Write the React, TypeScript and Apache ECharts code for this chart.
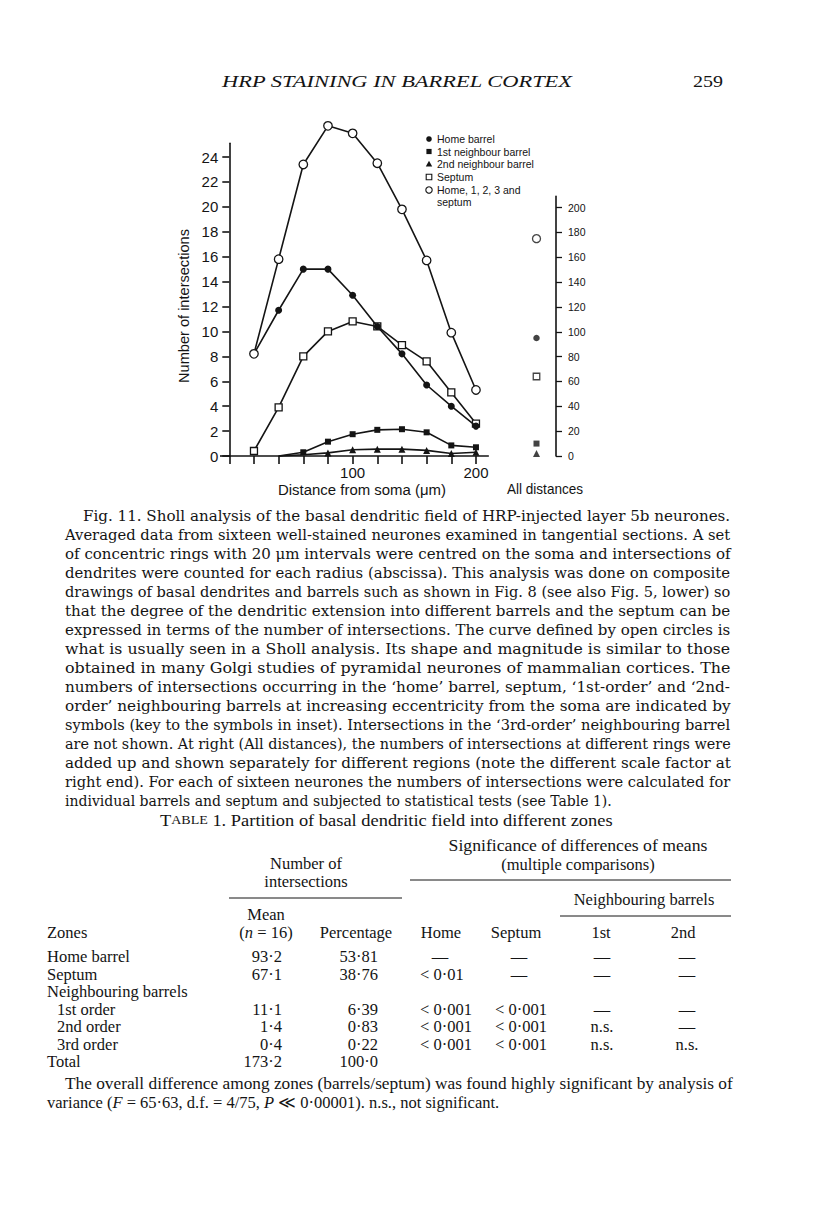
import React, { useEffect, useRef } from "react";
import * as echarts from "echarts";

// ---------- data ----------
const distances = [20, 40, 60, 80, 100, 120, 140, 160, 180, 200];
const totalAll = [8.2, 15.8, 23.4, 26.5, 25.9, 23.5, 19.8, 15.7, 9.9, 5.3];
const homeBarrel = [8.2, 11.7, 15.0, 15.0, 12.9, 10.4, 8.2, 5.7, 4.0, 2.4];
const septum = [0.4, 3.9, 8.0, 10.0, 10.8, 10.4, 8.9, 7.6, 5.1, 2.6];
const firstNeighbour = [null, 0, 0.3, 1.15, 1.75, 2.1, 2.15, 1.9, 0.85, 0.7];
const secondNeighbour = [null, 0, 0.1, 0.25, 0.5, 0.55, 0.55, 0.45, 0.2, 0.3];

const allDistancesCategory = ["All distances"];
const allTotal = [175];
const allHome = [95];
const allSeptum = [64];
const allFirst = [10];
const allSecond = [2];

const leftTicks = [0, 2, 4, 6, 8, 10, 12, 14, 16, 18, 20, 22, 24];
const xTicks = [0, 20, 40, 60, 80, 100, 120, 140, 160, 180, 200];
const xLabels = [100, 200];
const rightTicks = [0, 20, 40, 60, 80, 100, 120, 140, 160, 180, 200];

const legendLabels = [
  "Home barrel",
  "1st neighbour barrel",
  "2nd neighbour barrel",
  "Septum",
  "Home, 1, 2, 3 and",
  "septum",
];

const captionLines = [
  "Fig. 11. Sholl analysis of the basal dendritic field of HRP-injected layer 5b neurones.",
  "Averaged data from sixteen well-stained neurones examined in tangential sections. A set",
  "of concentric rings with 20 μm intervals were centred on the soma and intersections of",
  "dendrites were counted for each radius (abscissa). This analysis was done on composite",
  "drawings of basal dendrites and barrels such as shown in Fig. 8 (see also Fig. 5, lower) so",
  "that the degree of the dendritic extension into different barrels and the septum can be",
  "expressed in terms of the number of intersections. The curve defined by open circles is",
  "what is usually seen in a Sholl analysis. Its shape and magnitude is similar to those",
  "obtained in many Golgi studies of pyramidal neurones of mammalian cortices. The",
  "numbers of intersections occurring in the ‘home’ barrel, septum, ‘1st-order’ and ‘2nd-",
  "order’ neighbouring barrels at increasing eccentricity from the soma are indicated by",
  "symbols (key to the symbols in inset). Intersections in the ‘3rd-order’ neighbouring barrel",
  "are not shown. At right (All distances), the numbers of intersections at different rings were",
  "added up and shown separately for different regions (note the different scale factor at",
  "right end). For each of sixteen neurones the numbers of intersections were calculated for",
  "individual barrels and septum and subjected to statistical tests (see Table 1).",
];

const zoneLabels = ["Home barrel", "Septum", "Neighbouring barrels", "1st order", "2nd order", "3rd order", "Total"];
const meanValues = ["93·2", "67·1", "", "11·1", "1·4", "0·4", "173·2"];
const percentValues = ["53·81", "38·76", "", "6·39", "0·83", "0·22", "100·0"];
const sigHome = ["—", "< 0·01", "", "< 0·001", "< 0·001", "< 0·001", ""];
const sigSeptum = ["—", "—", "", "< 0·001", "< 0·001", "< 0·001", ""];
const sigFirst = ["—", "—", "", "—", "n.s.", "n.s.", ""];
const sigSecond = ["—", "—", "", "—", "—", "n.s.", ""];

// ---------- helpers ----------
const SERIF = '"DejaVu Serif", serif';
const TSERIF = '"Liberation Serif", serif';
const SANS = '"Liberation Sans", Arial, sans-serif';
const INK = "#141414";
const TS = 16.5;

let measureCtx: CanvasRenderingContext2D | null = null;
function measure(text: string, font: string): number {
  if (!measureCtx) measureCtx = document.createElement("canvas").getContext("2d");
  measureCtx!.font = font;
  return measureCtx!.measureText(text).width;
}

function txt(
  text: string,
  x: number,
  y: number,
  size: number,
  family: string,
  opts: { width?: number; italic?: boolean; align?: string; rotation?: number } = {}
) {
  const font = `${opts.italic ? "italic " : ""}${size}px ${family}`;
  const natural = measure(text, font);
  const sx = opts.width ? opts.width / natural : 1;
  return {
    type: "text",
    x,
    y,
    scaleX: sx,
    rotation: opts.rotation || 0,
    silent: true,
    style: {
      text,
      fill: INK,
      font,
      align: opts.align || "left",
      verticalAlign: "middle",
    },
  };
}

function hline(x1: number, x2: number, y: number, w = 1) {
  return {
    type: "line",
    silent: true,
    shape: { x1, y1: y, x2, y2: y },
    style: { stroke: INK, lineWidth: w },
  };
}

function pairs(vals: (number | null)[]) {
  return distances.map((d, i) => [d, vals[i]]);
}

export default function App() {
  const ref = useRef<HTMLDivElement>(null);

  useEffect(() => {
    if (!ref.current) return;
    const chart = echarts.init(ref.current, undefined, { renderer: "svg" });

    const graphics: any[] = [];

    // running head
    graphics.push(txt("HRP STAINING IN BARREL CORTEX", 397, 81, 17, TSERIF, { italic: true, align: "center", width: 351 }));
    graphics.push(txt("259", 708, 81, 17, TSERIF, { align: "center", width: 30 }));

    // axis names
    graphics.push(txt("Number of intersections", 184, 306, 15, SANS, { align: "center", rotation: Math.PI / 2, width: 154 }));
    graphics.push(txt("Distance from soma (μm)", 362, 489, 15, SANS, { align: "center", width: 168 }));
    graphics.push(txt("All distances", 545, 489, 15, SANS, { align: "center", width: 76 }));

    // x-axis line extension to the left of the y axis
    graphics.push(hline(220, 230, 456, 1.6));

    // legend
    const lx = 429;
    const ly = [139, 151.5, 164, 177, 190, 202];
    graphics.push({ type: "circle", silent: true, shape: { cx: lx, cy: ly[0], r: 2.8 }, style: { fill: INK } });
    graphics.push({ type: "rect", silent: true, shape: { x: lx - 2.6, y: ly[1] - 2.6, width: 5.2, height: 5.2 }, style: { fill: INK } });
    graphics.push({ type: "polygon", silent: true, shape: { points: [[lx, ly[2] - 3.2], [lx - 3.2, ly[2] + 2.6], [lx + 3.2, ly[2] + 2.6]] }, style: { fill: INK } });
    graphics.push({ type: "rect", silent: true, shape: { x: lx - 2.8, y: ly[3] - 2.8, width: 5.6, height: 5.6 }, style: { fill: "#fff", stroke: INK, lineWidth: 1.1 } });
    graphics.push({ type: "circle", silent: true, shape: { cx: lx, cy: ly[4], r: 3.2 }, style: { fill: "#fff", stroke: INK, lineWidth: 1.1 } });
    legendLabels.forEach((l, i) => graphics.push(txt(l, 437, ly[i], 10.5, SANS)));

    // caption (justified lines, last line natural width)
    captionLines.forEach((line, i) => {
      const y = 516 + i * 19;
      const x = i === 0 ? 83 : 65;
      const last = i === captionLines.length - 1;
      graphics.push(txt(line, x, y, 14, SERIF, last ? {} : { width: 731 - x }));
    });

    // table title (small caps TABLE)
    const titleRest = " 1. Partition of basal dendritic field into different zones";
    const titleNatural =
      measure("T", `${TS}px ${TSERIF}`) + measure("ABLE", `${TS * 0.76}px ${TSERIF}`) + measure(titleRest, `${TS}px ${TSERIF}`);
    graphics.push({
      type: "text",
      x: 160,
      y: 820,
      scaleX: 453 / titleNatural,
      silent: true,
      style: {
        text: "{a|T}{b|ABLE}" + titleRest,
        font: `${TS}px ${TSERIF}`,
        fill: INK,
        verticalAlign: "middle",
        rich: {
          a: { fontSize: TS, fontFamily: TSERIF, fill: INK },
          b: { fontSize: TS * 0.76, fontFamily: TSERIF, fill: INK },
        },
      },
    });

    // table header
    graphics.push(txt("Significance of differences of means", 578, 846, TS, TSERIF, { align: "center", width: 259 }));
    graphics.push(txt("(multiple comparisons)", 578, 864, TS, TSERIF, { align: "center" }));
    graphics.push(txt("Number of", 306, 863, TS, TSERIF, { align: "center" }));
    graphics.push(txt("intersections", 306, 881, TS, TSERIF, { align: "center" }));
    graphics.push(hline(410, 731, 880));
    graphics.push(hline(229, 402, 898));
    graphics.push(txt("Neighbouring barrels", 644, 899, TS, TSERIF, { align: "center" }));
    graphics.push(hline(560, 731, 916));
    graphics.push(txt("Mean", 266, 914, TS, TSERIF, { align: "center" }));
    graphics.push({
      type: "text",
      x: 266,
      y: 932,
      silent: true,
      style: {
        text: "({i|n} = 16)",
        font: `${TS}px ${TSERIF}`,
        fill: INK,
        align: "center",
        verticalAlign: "middle",
        rich: { i: { fontSize: TS, fontFamily: TSERIF, fontStyle: "italic", fill: INK } },
      },
    });
    graphics.push(txt("Zones", 47, 932, TS, TSERIF));
    graphics.push(txt("Percentage", 356, 932, TS, TSERIF, { align: "center" }));
    graphics.push(txt("Home", 441, 932, TS, TSERIF, { align: "center" }));
    graphics.push(txt("Septum", 516, 932, TS, TSERIF, { align: "center" }));
    graphics.push(txt("1st", 601, 932, TS, TSERIF, { align: "center" }));
    graphics.push(txt("2nd", 683, 932, TS, TSERIF, { align: "center" }));

    // table body
    const rowY = [956, 974, 991, 1009, 1026, 1044, 1061];
    const sigCell = (s: string, left: number, center: number, y: number) => {
      if (!s) return;
      if (s.startsWith("<")) graphics.push(txt(s, left, y, TS, TSERIF));
      else graphics.push(txt(s, center, y, TS, TSERIF, { align: "center" }));
    };
    zoneLabels.forEach((z, i) => {
      const y = rowY[i];
      const indent = i >= 3 && i <= 5 ? 57 : 47;
      graphics.push(txt(z, indent, y, TS, TSERIF));
      if (meanValues[i]) graphics.push(txt(meanValues[i], 282, y, TS, TSERIF, { align: "right" }));
      if (percentValues[i]) graphics.push(txt(percentValues[i], 378, y, TS, TSERIF, { align: "right" }));
      sigCell(sigHome[i], 420, 440, y);
      sigCell(sigSeptum[i], 495, 519, y);
      sigCell(sigFirst[i], 0, 602, y);
      sigCell(sigSecond[i], 0, 687, y);
    });

    // footnote
    graphics.push(
      txt("The overall difference among zones (barrels/septum) was found highly significant by analysis of", 65, 1084, TS, TSERIF, {
        width: 668,
      })
    );
    graphics.push({
      type: "text",
      x: 47,
      y: 1102,
      silent: true,
      style: {
        text: "variance ({i|F} = 65·63, d.f. = 4/75, {i|P} ≪ 0·00001). n.s., not significant.",
        font: `${TS}px ${TSERIF}`,
        fill: INK,
        verticalAlign: "middle",
        rich: { i: { fontSize: TS, fontFamily: TSERIF, fontStyle: "italic", fill: INK } },
      },
    });

    const lineStyle = { color: INK, width: 1.6 };
    const openStyle = { color: "#fff", borderColor: INK, borderWidth: 1.3 };
    const hideLow = (v: any) => (Array.isArray(v) && v[1] <= 0.12 ? "none" : undefined);

    const option: any = {
      animation: false,
      backgroundColor: "#fff",
      grid: [
        { left: 229.3, top: 143.3, width: 259, height: 312.7, containLabel: false },
        { left: 517, top: 196.4, width: 39, height: 259.6, containLabel: false },
      ],
      xAxis: [
        {
          type: "value",
          gridIndex: 0,
          min: 0,
          max: 210,
          interval: 20,
          splitLine: { show: false },
          axisLine: { show: true, onZero: false, lineStyle: { color: INK, width: 1.6 } },
          axisTick: { show: true, length: 8, inside: false, customValues: xTicks, lineStyle: { color: INK, width: 1.6 } },
          axisLabel: {
            show: true,
            customValues: xLabels,
            margin: 9,
            fontSize: 15,
            fontFamily: SANS,
            color: INK,
            formatter: (v: number) => (xLabels.includes(v) ? String(v) : ""),
          },
        },
        {
          type: "category",
          gridIndex: 1,
          data: allDistancesCategory,
          show: false,
          boundaryGap: true,
        },
      ],
      yAxis: [
        {
          type: "value",
          gridIndex: 0,
          min: 0,
          max: 25.1,
          interval: 2,
          splitLine: { show: false },
          axisLine: { show: true, onZero: false, lineStyle: { color: INK, width: 1.6 } },
          axisTick: { show: true, length: 7, customValues: leftTicks, lineStyle: { color: INK, width: 1.6 } },
          axisLabel: {
            customValues: leftTicks,
            margin: 11,
            fontSize: 15,
            fontFamily: SANS,
            color: INK,
            formatter: (v: number) => (leftTicks.includes(v) ? String(v) : ""),
          },
        },
        {
          type: "value",
          gridIndex: 1,
          position: "right",
          min: 0,
          max: 209,
          interval: 20,
          splitLine: { show: false },
          axisLine: { show: true, onZero: false, lineStyle: { color: INK, width: 1.6 } },
          axisTick: { show: true, length: 6, customValues: rightTicks, lineStyle: { color: INK, width: 1.3 } },
          axisLabel: {
            customValues: rightTicks,
            margin: 12,
            fontSize: 10.5,
            fontFamily: SANS,
            color: INK,
            formatter: (v: number) => (rightTicks.includes(v) ? String(v) : ""),
          },
        },
      ],
      series: [
        {
          name: "2nd neighbour barrel",
          type: "line",
          data: pairs(secondNeighbour),
          symbol: (v: any) => hideLow(v) || "triangle",
          symbolSize: 7,
          clip: false,
          lineStyle,
          itemStyle: { color: INK },
          z: 3,
        },
        {
          name: "1st neighbour barrel",
          type: "line",
          data: pairs(firstNeighbour),
          symbol: (v: any) => hideLow(v) || "rect",
          symbolSize: 6,
          clip: false,
          lineStyle,
          itemStyle: { color: INK },
          z: 3,
        },
        {
          name: "Septum",
          type: "line",
          data: pairs(septum),
          symbol: "rect",
          symbolSize: 7,
          clip: false,
          lineStyle,
          itemStyle: openStyle,
          z: 4,
        },
        {
          name: "Home barrel",
          type: "line",
          data: pairs(homeBarrel),
          symbol: "circle",
          symbolSize: 7,
          clip: false,
          lineStyle,
          itemStyle: { color: INK },
          z: 5,
        },
        {
          name: "Home, 1, 2, 3 and septum",
          type: "line",
          data: pairs(totalAll),
          symbol: "circle",
          symbolSize: 8.5,
          clip: false,
          lineStyle,
          itemStyle: openStyle,
          z: 6,
        },
        {
          name: "All: Home, 1, 2, 3 and septum",
          type: "scatter",
          xAxisIndex: 1,
          yAxisIndex: 1,
          data: allTotal,
          symbol: "circle",
          symbolSize: 8,
          itemStyle: openStyle,
        },
        {
          name: "All: Home barrel",
          type: "scatter",
          xAxisIndex: 1,
          yAxisIndex: 1,
          data: allHome,
          symbol: "circle",
          symbolSize: 6.5,
          itemStyle: { color: INK },
        },
        {
          name: "All: Septum",
          type: "scatter",
          xAxisIndex: 1,
          yAxisIndex: 1,
          data: allSeptum,
          symbol: "rect",
          symbolSize: 6.5,
          itemStyle: openStyle,
        },
        {
          name: "All: 1st neighbour barrel",
          type: "scatter",
          xAxisIndex: 1,
          yAxisIndex: 1,
          data: allFirst,
          symbol: "rect",
          symbolSize: 6,
          itemStyle: { color: INK },
        },
        {
          name: "All: 2nd neighbour barrel",
          type: "scatter",
          xAxisIndex: 1,
          yAxisIndex: 1,
          data: allSecond,
          symbol: "triangle",
          symbolSize: 7,
          itemStyle: { color: INK },
        },
      ],
      graphic: graphics,
    };

    chart.setOption(option);
    return () => chart.dispose();
  }, []);

  return (
    <div
      ref={ref}
      style={{ position: "absolute", left: 0, top: 0, width: 816, height: 1206, background: "#fff" }}
    />
  );
}
